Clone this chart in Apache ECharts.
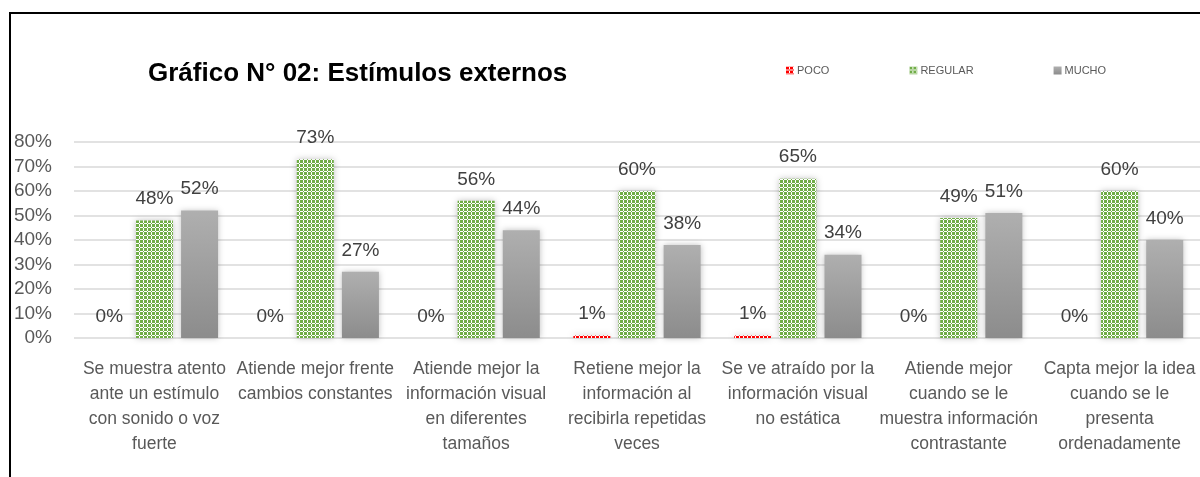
<!DOCTYPE html>
<html>
<head>
<meta charset="utf-8">
<script src="https://cdn.jsdelivr.net/npm/echarts@6/dist/echarts.min.js"></script>
<style>
  html, body { margin: 0; padding: 0; background: #fff; }
  #chart { width: 1200px; height: 477px; }
</style>
</head>
<body>
<div id="chart"></div>
<script>
var categories = [
  'Se muestra atento\nante un estímulo\ncon sonido o voz\nfuerte',
  'Atiende mejor frente\ncambios constantes',
  'Atiende mejor la\ninformación visual\nen diferentes\ntamaños',
  'Retiene mejor la\ninformación al\nrecibirla repetidas\nveces',
  'Se ve atraído por la\ninformación visual\nno estática',
  'Atiende mejor\ncuando se le\nmuestra información\ncontrastante',
  'Capta mejor la idea\ncuando se le\npresenta\nordenadamente'
]
var pocoData = [0, 0, 0, 1, 1, 0, 0]
var regularData = [48, 73, 56, 60, 65, 49, 60]
var muchoData = [52, 27, 44, 38, 34, 51, 40]
var seriesNames = ['POCO', 'REGULAR', 'MUCHO']

var font = "'Liberation Sans', Arial, sans-serif"

// checker fill like the excel pattern, mostly coloured with white breaks
function checker(fg) {
  var rows = [
    [1, 1, 1, 0],
    [1, 1, 1, 0],
    [1, 1, 1, 0],
    [0, 0, 0, 1]
  ]
  var c = document.createElement('canvas')
  c.width = 4
  c.height = 4
  var ctx = c.getContext('2d')
  ctx.fillStyle = '#fff'
  ctx.fillRect(0, 0, 4, 4)
  ctx.fillStyle = fg
  for (var y = 0; y < 4; y++) {
    for (var x = 0; x < 4; x++) {
      if (rows[y][x]) ctx.fillRect(x, y, 1, 1)
    }
  }
  return { image: c, repeat: 'repeat' }
}

var labelStyle = {
  show: true,
  position: 'top',
  distance: 12,
  color: '#404040',
  fontFamily: font,
  fontSize: 19,
  formatter: function (p) {
    return p.value + '%'
  }
}

var barShadow = {
  shadowBlur: 6,
  shadowColor: 'rgba(0,0,0,0.25)'
}

var chart = echarts.init(document.getElementById('chart'))
chart.setOption({
  animation: false,
  title: {
    text: 'Gráfico N° 02: Estímulos externos',
    left: 143,
    top: 56,
    textStyle: {
      color: '#000',
      fontFamily: font,
      fontWeight: 'bold',
      fontSize: 26
    }
  },
  legend: {
    data: seriesNames,
    left: 781,
    top: 60,
    itemWidth: 8,
    itemHeight: 8,
    itemGap: 80,
    icon: 'rect',
    textStyle: {
      color: '#595959',
      fontFamily: font,
      fontSize: 11,
      padding: [0, 0, 0, -2]
    }
  },
  graphic: [
    {
      type: 'rect',
      z: -1,
      shape: { x: 10, y: 13, width: 1200, height: 480 },
      style: { fill: 'none', stroke: '#000', lineWidth: 2 }
    }
  ],
  grid: {
    left: 74,
    top: 142,
    width: 1131,
    height: 196
  },
  xAxis: {
    type: 'category',
    data: categories,
    axisLine: { show: false },
    axisTick: { show: false },
    axisLabel: {
      interval: 0,
      margin: 19,
      color: '#595959',
      fontFamily: font,
      fontSize: 17.5,
      lineHeight: 25
    }
  },
  yAxis: {
    type: 'value',
    min: 0,
    max: 80,
    interval: 10,
    axisLine: { show: false },
    axisTick: { show: false },
    axisLabel: {
      formatter: '{value}%',
      margin: 22,
      color: '#595959',
      fontFamily: font,
      fontSize: 19
    },
    splitLine: {
      lineStyle: { color: '#d9d9d9', width: 1.5 }
    }
  },
  series: [
    {
      name: seriesNames[0],
      type: 'bar',
      barWidth: 37,
      barGap: '22%',
      data: pocoData,
      itemStyle: Object.assign({ color: checker('#ff0000') }, barShadow),
      label: labelStyle
    },
    {
      name: seriesNames[1],
      type: 'bar',
      barWidth: 37,
      barGap: '22%',
      data: regularData,
      itemStyle: Object.assign({ color: checker('#70ad47') }, barShadow),
      label: labelStyle
    },
    {
      name: seriesNames[2],
      type: 'bar',
      barWidth: 37,
      barGap: '22%',
      data: muchoData,
      itemStyle: Object.assign({
        color: new echarts.graphic.LinearGradient(0, 0, 0, 1, [
          { offset: 0, color: '#afafaf' },
          { offset: 1, color: '#8c8c8c' }
        ])
      }, barShadow),
      label: labelStyle
    }
  ]
})
</script>
</body>
</html>
